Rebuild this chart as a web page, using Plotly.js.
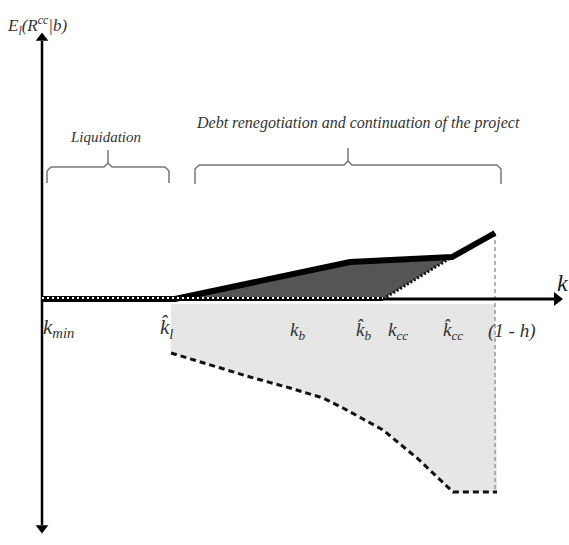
<!DOCTYPE html>
<html>
<head>
<meta charset="utf-8">
<script src="https://cdn.plot.ly/plotly-3.0.1.min.js"></script>
<style>html,body{margin:0;padding:0;background:#fff;}#chart{width:569px;height:545px;}</style>
</head>
<body>
<div id="chart"></div>
<script>
// ---- conceptual values (k on horizontal axis, expected payoff on vertical) ----
var kMin = 0.0, kL = 1.33, kBHat = 3.41, kCCHat = 4.10, oneMinusH = 4.53;
var kAxisEnd = 5.20, eAxisTop = 2.66, eAxisBottom = -2.34;
// upper payoff curve (thick black)
var upperK = [0.0, 1.33, 3.08, 4.10, 4.53];
var upperE = [0.0, 0.0, 0.37, 0.42, 0.66];
// dark-grey region bounded by the dotted line
var darkK = [1.33, 3.08, 4.10, 3.41, 1.33];
var darkE = [0.0, 0.37, 0.42, 0.0, 0.0];
// lower dashed curve
var lowerK = [1.29, 1.75, 2.08, 2.48, 2.81, 3.01, 3.41, 3.75, 4.11, 4.55];
var lowerE = [-0.54, -0.68, -0.78, -0.89, -0.99, -1.09, -1.31, -1.59, -1.93, -1.93];
// labels on the k axis
var tickLabels = ["k<sub>min</sub>", "k\u0302<sub>l</sub>", "k<sub>b</sub>", "k\u0302<sub>b</sub>", "k<sub>cc</sub>", "k\u0302<sub>cc</sub>", "(1 - h)"];
var tickPos = [0.16, 1.24, 2.55, 3.21, 3.56, 4.11, 4.69];
var regionLabels = ["Liquidation", "Debt renegotiation and continuation of the project"];

var traces = [];
var serif = "Liberation Serif, DejaVu Serif, serif";

// light grey region under the axis
var fillTop = -0.05;
var lgK = [lowerK[0]].concat(lowerK).concat([oneMinusH, lowerK[0]]);
var lgE = [fillTop].concat(lowerE).concat([fillTop, fillTop]);
traces.push({x: lgK, y: lgE, mode: "lines", fill: "toself", fillcolor: "#e6e6e6",
  line: {width: 0, color: "rgba(0,0,0,0)"}, hoverinfo: "skip"});
// lower dashed curve
traces.push({x: lowerK, y: lowerE, mode: "lines", line: {color: "#111", width: 3, dash: "6px,4px"}, hoverinfo: "skip"});
// vertical dashed line at (1-h)
traces.push({x: [oneMinusH, oneMinusH], y: [upperE[upperE.length - 1], lowerE[lowerE.length - 1]], mode: "lines",
  line: {color: "#999", width: 1.5, dash: "4px,3px"}, hoverinfo: "skip"});
// dark grey region
traces.push({x: darkK, y: darkE, mode: "lines", fill: "toself", fillcolor: "#555",
  line: {width: 0, color: "rgba(0,0,0,0)"}, hoverinfo: "skip"});
// dotted boundary of the dark region
traces.push({x: [darkK[3], darkK[2]], y: [darkE[3], darkE[2]], mode: "lines",
  line: {color: "#111", width: 3, dash: "2px,2px"}, hoverinfo: "skip"});
// vertical axis (both directions)
traces.push({x: [0, 0], y: [eAxisBottom + 0.08, eAxisTop - 0.08], mode: "lines",
  line: {color: "#000", width: 2.5}, hoverinfo: "skip"});
traces.push({x: [0, 0], y: [eAxisTop - 0.05, eAxisBottom + 0.05], mode: "markers",
  marker: {symbol: ["triangle-up", "triangle-down"], size: 11, color: "#000"}, hoverinfo: "skip"});
// horizontal axis
traces.push({x: [kBHat, kAxisEnd - 0.08], y: [0, 0], mode: "lines", line: {color: "#000", width: 3}, hoverinfo: "skip"});
traces.push({x: [kAxisEnd - 0.05], y: [0], mode: "markers",
  marker: {symbol: "triangle-right", size: 12, color: "#000"}, hoverinfo: "skip"});
// axis segment under the regions
traces.push({x: [kMin, kBHat], y: [0, 0], mode: "lines", line: {color: "#000", width: 4}, hoverinfo: "skip"});
// upper thick curve
traces.push({x: upperK, y: upperE, mode: "lines", line: {color: "#000", width: 6}, hoverinfo: "skip"});
// white dotted line along the axis
traces.push({x: [kMin, kBHat], y: [0.01, 0.01], mode: "lines", line: {color: "#fff", width: 2, dash: "2px,3px"}, hoverinfo: "skip"});

// braces
function brace(x0, x1, yH, yEnd, yTip) {
  var xm = (x0 + x1) / 2, r = 0.04;
  return {x: [x0, x0, x0 + r, xm - r, xm, xm, null, xm, xm + r, x1 - r, x1, x1],
          y: [yEnd, yH - r, yH, yH, yH + r, yTip, null, yH + r, yH, yH, yH - r, yEnd],
          mode: "lines", line: {color: "#777", width: 1.5}, hoverinfo: "skip", connectgaps: false};
}
traces.push(brace(0.05, 1.27, 1.32, 1.16, 1.49));
traces.push(brace(1.53, 4.59, 1.34, 1.15, 1.51));

var annotations = [];
// axis titles
annotations.push({x: 5.20, y: 0.16, xref: "x", yref: "y", showarrow: false, text: "<i>k</i>",
  font: {family: serif, size: 24, color: "#222"}});
annotations.push({x: -0.05, y: 2.74, xref: "x", yref: "y", showarrow: false,
  text: "<i>E<sub>l</sub>(R<sup>cc</sup>|b)</i>", font: {family: serif, size: 17, color: "#333"}});
// tick labels
for (var i = 0; i < tickLabels.length; i++) {
  var big = (i < 2);
  annotations.push({x: tickPos[i], y: big ? -0.29 : -0.32, xref: "x", yref: "y", showarrow: false,
    text: "<i>" + tickLabels[i] + "</i>", font: {family: serif, size: big ? 21 : 19, color: "#333"}});
}
// region labels
annotations.push({x: 0.63, y: 1.62, xref: "x", yref: "y", showarrow: false,
  text: "<i>" + regionLabels[0] + "</i>", font: {family: serif, size: 15, color: "#333"}});
annotations.push({x: 3.155, y: 1.76, xref: "x", yref: "y", showarrow: false,
  text: "<i>" + regionLabels[1] + "</i>", font: {family: serif, size: 16, color: "#333"}});

var layout = {
  width: 569, height: 545, margin: {l: 0, r: 0, t: 0, b: 0},
  paper_bgcolor: "#fff", plot_bgcolor: "#fff", showlegend: false,
  xaxis: {range: [-0.42, 5.27], visible: false, fixedrange: true},
  yaxis: {range: [-2.46, 2.99], visible: false, fixedrange: true},
  annotations: annotations
};
Plotly.newPlot("chart", traces, layout, {staticPlot: true, displayModeBar: false});
</script>
</body>
</html>
